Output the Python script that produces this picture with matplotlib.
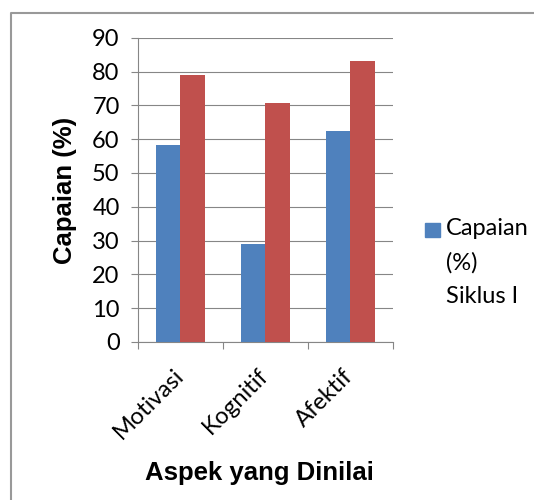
from matplotlib import pyplot as plt
from matplotlib.lines import Line2D
from matplotlib.patches import Rectangle
import numpy as np

# data
categories = ['Motivasi', 'Kognitif', 'Afektif']
series_names = ['Capaian (%) Siklus I', 'Capaian (%) Siklus II']
siklus_1 = [58.2, 29.1, 62.4]
siklus_2 = [79.0, 70.7, 83.2]
y_ticks = [0, 10, 20, 30, 40, 50, 60, 70, 80, 90]

blue = '#4F81BD'
red = '#C0504D'
grey = '#868686'
tick_font = 'Lato'
label_font = 'Liberation Sans'

W, H = 534, 500
fig = plt.figure(figsize=(W / 100, H / 100), dpi=100)

# outer chart frame (only left and top edges are visible)
fig.add_artist(Line2D([11 / W, 11 / W, 1], [0, 1 - 13 / H, 1 - 13 / H],
                      transform=fig.transFigure, color='#999999', lw=1.5))

ax = fig.add_axes([137.7 / W, 158 / H, 255 / W, 304.3 / H])
x = np.arange(len(categories))
bw = 0.286
ax.bar(x - bw / 2, siklus_1, bw, color=blue, label=series_names[0], zorder=3)
ax.bar(x + bw / 2, siklus_2, bw, color=red, label=series_names[1], zorder=3)

ax.set_xlim(-0.5, len(categories) - 0.5)
ax.set_ylim(0, 90)
ax.set_yticks(y_ticks)
ax.set_yticklabels([str(v) for v in y_ticks], fontfamily=tick_font, fontsize=17)
ax.tick_params(axis='y', length=5, width=0.8, color=grey, pad=8)
ax.yaxis.grid(True, color=grey, lw=0.8, zorder=0)

# category labels sit at centres, ticks sit at category boundaries
ax.set_xticks(np.arange(-0.5, len(categories)), labels=[''] * (len(categories) + 1))
ax.tick_params(axis='x', length=5, width=0.8, color=grey, direction='out')
ax.set_xticks(x, labels=categories, minor=True)
ax.tick_params(axis='x', which='minor', length=0, pad=22)
for lbl in ax.get_xticklabels(minor=True):
    lbl.set_rotation(45)
    lbl.set_ha('right')
    lbl.set_va('center')
    lbl.set_rotation_mode('anchor')
    lbl.set_fontfamily(tick_font)
    lbl.set_fontsize(17)

for side in ['top', 'right']:
    ax.spines[side].set_visible(False)
for side in ['left', 'bottom']:
    ax.spines[side].set_color(grey)
    ax.spines[side].set_linewidth(0.8)

fig.text(65 / W, 1 - 190 / H, 'Capaian (%)', rotation=90, ha='center', va='center',
         fontfamily=label_font, fontweight='bold', fontsize=18.5)
fig.text(259 / W, 1 - 473 / H, 'Aspek yang Dinilai', ha='center', va='center',
         fontfamily=label_font, fontweight='bold', fontsize=18.5)

# legend: only the first series is visible in the reference
fig.add_artist(Rectangle((425 / W, 1 - 237 / H), 15 / W, 14 / H,
                         transform=fig.transFigure, color=blue))
fig.text(446 / W, 1 - 218 / H, 'Capaian\n(%)\nSiklus I', ha='left', va='top',
         fontfamily=tick_font, fontsize=17, linespacing=1.75)

fig.savefig('out.png', dpi=100)
